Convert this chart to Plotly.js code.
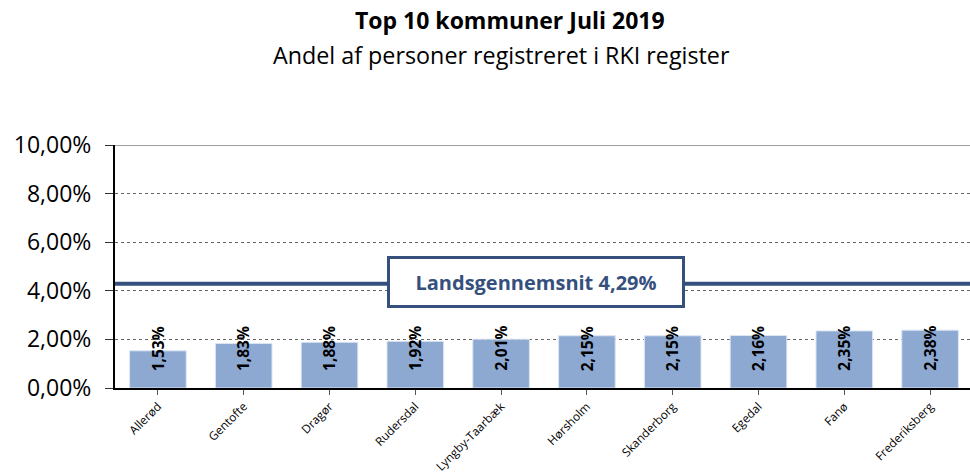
<!DOCTYPE html>
<html>
<head>
<meta charset="utf-8">
<script src="https://cdn.plot.ly/plotly-3.0.1.min.js"></script>
<style>html,body{margin:0;padding:0;overflow:hidden;background:#fff}</style>
</head>
<body>
<div id="chart" style="width:975px;height:475px"></div>
<script>
const kommuner = ["Allerød","Gentofte","Dragør","Rudersdal","Lyngby-Taarbæk","Hørsholm","Skanderborg","Egedal","Fanø","Frederiksberg"];
const andel = [0.0153,0.0183,0.0188,0.0192,0.0201,0.0215,0.0215,0.0216,0.0235,0.0238];
const landsgennemsnit = 0.0429;
const yTicks = [0,0.02,0.04,0.06,0.08,0.10];
const titleText = "Top 10 kommuner Juli 2019";
const subtitleText = "Andel af personer registreret i RKI register";

const FONT = "Open Sans, Noto Sans, sans-serif";
const fmt = v => (v*100).toFixed(2).replace('.', ',') + '%';

const labelAnn = kommuner.map((k,i) => ({
  x: k, y: 0.0163, xref: 'x', yref: 'y',
  text: '<b>' + fmt(andel[i]) + '</b>',
  textangle: -90, showarrow: false,
  font: {family: FONT, size: 15.5, color: '#000'},
  xanchor: 'center', yanchor: 'middle'
}));

const avgAnn = {
  x: 0.491, xref: 'paper', y: landsgennemsnit + 0.0007, yref: 'y',
  text: '<b>Landsgennemsnit ' + fmt(landsgennemsnit) + '</b>',
  showarrow: false, bgcolor: '#ffffff', bordercolor: '#35507D', borderwidth: 3,
  width: 290, height: 44,
  font: {family: FONT, size: 20, color: '#35507D'},
  xanchor: 'center', yanchor: 'middle'
};

const titleAnns = [
  {x: 0.46, xref: 'paper', y: 1.514, yref: 'paper', text: '<b>' + titleText + '</b>', showarrow: false,
   font: {family: FONT, size: 23, color: '#000'}, xanchor: 'center', yanchor: 'middle'},
  {x: 0.451, xref: 'paper', y: 1.370, yref: 'paper', text: subtitleText, showarrow: false,
   font: {family: FONT, size: 23.3, color: '#000'}, xanchor: 'center', yanchor: 'middle'}
];

const data = [{
  type: 'bar', x: kommuner, y: andel,
  marker: {color: '#8DA9D2', line: {color: '#DCE5F2', width: 1}},
  width: 0.66, hoverinfo: 'skip'
}];

const layout = {
  width: 975, height: 475,
  margin: {l: 115, r: 2, t: 145, b: 87},
  paper_bgcolor: '#fff', plot_bgcolor: '#fff',
  separators: ',.',
  showlegend: false,
  xaxis: {
    type: 'category', tickangle: -45,
    tickfont: {family: FONT, size: 11.8, color: '#000'},
    showline: true, linecolor: '#000', linewidth: 2,
    ticks: 'outside', tickcolor: '#555', ticklen: 5,
    showgrid: false, zeroline: false, fixedrange: true
  },
  yaxis: {
    range: [0, 0.10], tickvals: yTicks, tickformat: '.2%',
    tickfont: {family: FONT, size: 23, color: '#000'},
    ticklabelstandoff: 9,
    showline: true, linecolor: '#000', linewidth: 2,
    ticks: 'outside', tickcolor: '#333', ticklen: 8,
    showgrid: true, gridcolor: '#666', griddash: 'dot', gridwidth: 1,
    zeroline: false, fixedrange: true
  },
  shapes: [
    {type: 'line', xref: 'paper', x0: 0, x1: 1, yref: 'y', y0: 0.10, y1: 0.10, line: {color: '#a0a0a0', width: 2}},
    {type: 'line', xref: 'paper', x0: 0, x1: 1, yref: 'y', y0: landsgennemsnit, y1: landsgennemsnit, line: {color: '#35507D', width: 4}}
  ],
  annotations: labelAnn.concat([avgAnn], titleAnns)
};

Plotly.newPlot('chart', data, layout, {displayModeBar: false, staticPlot: true});
</script>
</body>
</html>
